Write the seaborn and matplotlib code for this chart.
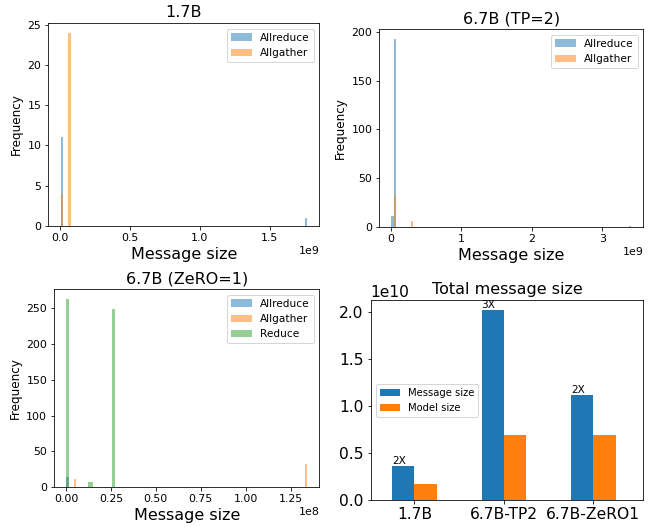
import numpy as np
import pandas as pd
import seaborn as sns
import matplotlib.pyplot as plt
from matplotlib.ticker import MultipleLocator

# message sizes (bytes) and how often each one occurs
p1_allreduce_size = [0.005e9, 1.7675e9]
p1_allreduce_count = [11, 1]
p1_allgather_size = [0.005e9, 0.07e9]
p1_allgather_count = [4, 24]

p2_allreduce_size = [0.01e9, 0.055e9, 3.41e9]
p2_allreduce_count = [11, 193, 1]
p2_allgather_size = [0.055e9, 0.29e9]
p2_allgather_count = [33, 6]

p3_allreduce_size = [0.002e8]
p3_allreduce_count = [15]
p3_allgather_size = [0.046e8, 1.343e8]
p3_allgather_count = [12, 32]
p3_reduce_size = [0.002e8, 0.128e8, 0.141e8, 0.258e8]
p3_reduce_count = [263, 7, 7, 249]

models = ['1.7B', '6.7B-TP2', '6.7B-ZeRO1']
message_total = [0.36e10, 2.03e10, 1.12e10]
model_total = [0.175e10, 0.69e10, 0.69e10]
ratio_labels = ['2X', '3X', '2X']

plt.rcParams['xtick.labelsize'] = 11
plt.rcParams['ytick.labelsize'] = 11

fig = plt.figure(figsize=(654 / 72, 527 / 72), dpi=72)
ax1 = fig.add_axes([0.0739, 0.5717, 0.4144, 0.3841])
ax2 = fig.add_axes([0.5800, 0.5698, 0.4037, 0.3745])
ax3 = fig.add_axes([0.0830, 0.0753, 0.4052, 0.3757])
ax4 = fig.add_axes([0.5668, 0.0512, 0.4168, 0.3795])


def hist_panel(ax, series, title, step):
    lo = min(min(s) for s, _, _, _ in series)
    hi = max(max(s) for s, _, _, _ in series)
    for sizes, counts, color, label in series:
        d = pd.DataFrame({'size': sizes, 'count': counts})
        sns.histplot(data=d, x='size', weights='count', bins=100, binrange=(lo, hi),
                     color=color, alpha=0.5, linewidth=0, ax=ax, label=label)
    ax.xaxis.set_major_locator(MultipleLocator(step))
    ax.set_title(title, fontsize=16)
    ax.set_xlabel('Message size', fontsize=16)
    ax.set_ylabel('Frequency', fontsize=12)
    ax.legend(loc='upper right', fontsize=10.5)


hist_panel(ax1, [(p1_allreduce_size, p1_allreduce_count, 'C0', 'Allreduce'),
                 (p1_allgather_size, p1_allgather_count, 'C1', 'Allgather')],
           '1.7B', 0.5e9)
hist_panel(ax2, [(p2_allreduce_size, p2_allreduce_count, 'C0', 'Allreduce'),
                 (p2_allgather_size, p2_allgather_count, 'C1', 'Allgather')],
           '6.7B (TP=2)', 1e9)
hist_panel(ax3, [(p3_allreduce_size, p3_allreduce_count, 'C0', 'Allreduce'),
                 (p3_allgather_size, p3_allgather_count, 'C1', 'Allgather'),
                 (p3_reduce_size, p3_reduce_count, 'C2', 'Reduce')],
           '6.7B (ZeRO=1)', 0.25e8)

# total message size vs model size
df = pd.DataFrame({
    'model': models * 2,
    'size': message_total + model_total,
    'kind': ['Message size'] * 3 + ['Model size'] * 3,
})
sns.barplot(data=df, x='model', y='size', hue='kind', palette=['C0', 'C1'],
            width=0.5, saturation=1, linewidth=0, legend=False, ax=ax4)
for bar, txt in zip(ax4.containers[0], ratio_labels):
    ax4.text(bar.get_x(), bar.get_height(), txt, ha='left', va='bottom', fontsize=10.5)
ax4.legend(ax4.containers, ['Message size', 'Model size'], loc='center left', fontsize=10)
ax4.set_xlim(-0.49, 2.56)
ax4.set_xlabel('')
ax4.set_ylabel('')
ax4.set_title('Total message size', fontsize=16)
ax4.tick_params(labelsize=15.5)
ax4.yaxis.get_offset_text().set_fontsize(15.5)

plt.savefig('out.png', dpi=72)
